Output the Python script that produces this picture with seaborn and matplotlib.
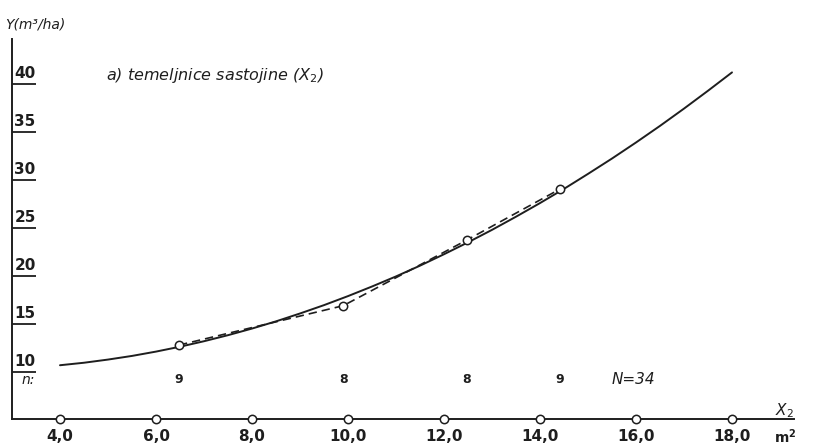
import matplotlib
matplotlib.use("Agg")
import matplotlib.pyplot as plt
import seaborn as sns
import pandas as pd
import numpy as np

# ---- data ----
curve_x = [4, 4.5, 5, 5.5, 6, 6.5, 7, 7.5, 8, 8.5, 9, 9.5, 10, 10.5, 11, 11.5,
           12, 12.5, 13, 13.5, 14, 14.5, 15, 15.5, 16, 16.5, 17, 17.5, 18]
curve_y = [10.70, 10.96, 11.29, 11.67, 12.12, 12.63, 13.20, 13.83, 14.52, 15.27,
           16.09, 16.96, 17.90, 18.90, 19.95, 21.07, 22.26, 23.50, 24.80, 26.17,
           27.59, 29.07, 30.63, 32.23, 33.90, 35.63, 37.43, 39.29, 41.20]
obs_x = [6.48, 9.9, 12.48, 14.42]
obs_y = [12.8, 16.9, 23.75, 29.06]
n_counts = ["9", "8", "8", "9"]
x_ticks = [4, 6, 8, 10, 12, 14, 16, 18]
x_tick_labels = ["4,0", "6,0", "8,0", "10,0", "12,0", "14,0", "16,0", "18,0"]
y_ticks = [10, 15, 20, 25, 30, 35, 40]
y_tick_labels = ["10", "15", "20", "25", "30", "35", "40"]
title_text = "a) temeljnice sastojine ($X_2$)"
y_label = "Y(m³/ha)"
total_text = "N=34"

sns.set_theme(style="white")
plt.rcParams["font.family"] = ["DejaVu Sans"]
plt.rcParams["mathtext.fontset"] = "dejavusans"

ink = "#1e1e1e"
fig = plt.figure(figsize=(8.13, 4.47), dpi=100)
fig.patch.set_facecolor("white")
ax = fig.add_axes([12 / 813, (447 - 419) / 447, 782.4 / 813, 380.2 / 447])
ax.set_facecolor("white")
xmin, xmax = 3.0, 19.3
ymin, ymax = 5.1, 44.7
ax.set_xlim(xmin, xmax)
ax.set_ylim(ymin, ymax)

curve_df = pd.DataFrame({"x": curve_x, "y": curve_y})
obs_df = pd.DataFrame({"x": obs_x, "y": obs_y})

sns.lineplot(data=curve_df, x="x", y="y", ax=ax, color=ink, linewidth=1.4)
sns.lineplot(data=obs_df, x="x", y="y", ax=ax, color=ink, linewidth=1.2,
             linestyle=(0, (5, 3)))
ax.plot(obs_x, obs_y, linestyle="none", marker="o", markersize=6,
        markerfacecolor="white", markeredgecolor=ink, markeredgewidth=1.1, zorder=5)

# spines
for s in ["top", "right"]:
    ax.spines[s].set_visible(False)
for s in ["left", "bottom"]:
    ax.spines[s].set_color(ink)
    ax.spines[s].set_linewidth(1.4)

# x ticks: open circles on the axis, labels below
ax.set_xticks(x_ticks)
ax.set_xticklabels(x_tick_labels, fontsize=11, fontweight="bold", color=ink)
ax.tick_params(axis="x", length=0, pad=7)
ax.plot(x_ticks, [ymin] * len(x_ticks), linestyle="none", marker="o", markersize=6,
        markerfacecolor="white", markeredgecolor=ink, markeredgewidth=1.1,
        clip_on=False, zorder=6)

# y ticks: inward underlines with labels sitting on top
ax.set_yticks(y_ticks)
ax.set_yticklabels([])
ax.tick_params(axis="y", which="major", left=True, direction="in", length=17,
               width=1.3, color=ink, pad=0)
for v, lab in zip(y_ticks, y_tick_labels):
    ax.text(3.05, v + 0.35, lab, fontsize=11, fontweight="bold", color=ink,
            ha="left", va="bottom")

ax.set_xlabel("")
ax.set_ylabel("")

# texts
ax.text(3.0 - 7 / 48, 46.2, y_label, fontsize=10, style="italic", color=ink,
        ha="left", va="center", clip_on=False)
ax.text(4.95, 40.9, title_text, fontsize=11.5, style="italic", color=ink,
        ha="left", va="center")
ax.text(3.2, 9.2, "n:", fontsize=10, style="italic", color=ink, ha="left", va="center")
for xv, c in zip(obs_x, n_counts):
    ax.text(xv, 9.2, c, fontsize=9, fontweight="bold", color=ink, ha="center", va="center")
ax.text(15.5, 9.2, total_text, fontsize=11, style="italic", color=ink, ha="left", va="center")
ax.text(19.1, 6.0, "$X_2$", fontsize=11, color=ink, ha="center", va="center", clip_on=False)
ax.text(19.1, 3.3, "$\\mathbf{m^2}$", fontsize=10, color=ink, ha="center",
        va="center", clip_on=False)

fig.savefig("out.png", dpi=100, facecolor="white")
